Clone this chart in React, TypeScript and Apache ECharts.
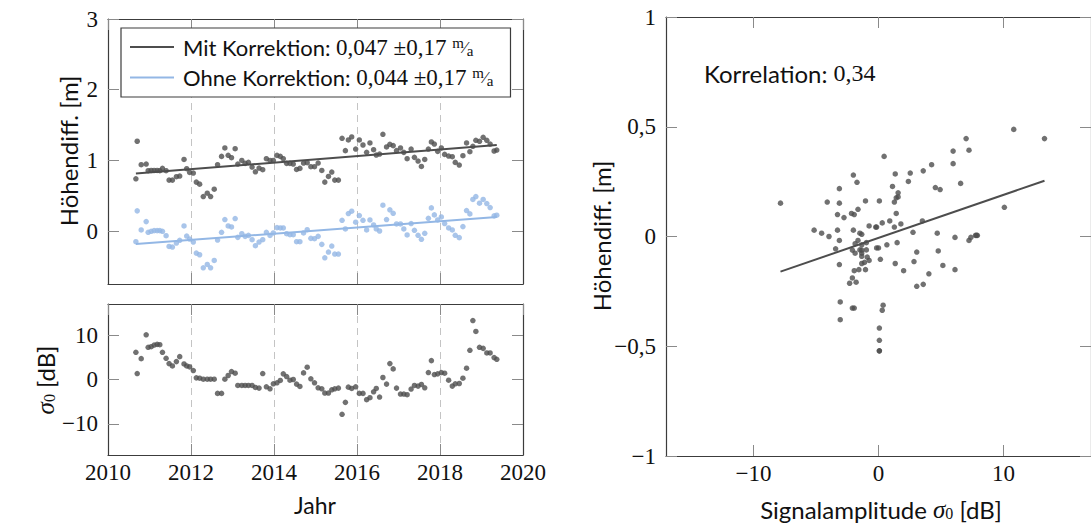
import React, { useEffect, useRef } from "react";
import * as echarts from "echarts";

// ---- data ----
const dates = [
  2010.672, 2010.704, 2010.8, 2010.92, 2010.968, 2011.04, 2011.112, 2011.184, 2011.248, 2011.312,
  2011.4, 2011.472, 2011.552, 2011.648, 2011.728, 2011.832, 2011.896, 2011.968, 2012.056, 2012.128,
  2012.208, 2012.296, 2012.392, 2012.472, 2012.56, 2012.64, 2012.736, 2012.816, 2012.896, 2012.976,
  2013.064, 2013.128, 2013.224, 2013.304, 2013.384, 2013.472, 2013.552, 2013.64, 2013.728, 2013.816,
  2013.904, 2013.984, 2014.072, 2014.152, 2014.224, 2014.304, 2014.384, 2014.464, 2014.544, 2014.624,
  2014.712, 2014.8, 2014.888, 2014.976, 2015.064, 2015.152, 2015.224, 2015.312, 2015.392, 2015.464,
  2015.552, 2015.64, 2015.72, 2015.792, 2015.872, 2015.968, 2016.056, 2016.144, 2016.232, 2016.312,
  2016.4, 2016.464, 2016.544, 2016.624, 2016.712, 2016.792, 2016.872, 2016.952, 2017.048, 2017.128,
  2017.208, 2017.304, 2017.384, 2017.472, 2017.552, 2017.632, 2017.72, 2017.792, 2017.864, 2017.944,
  2018.032, 2018.112, 2018.208, 2018.296, 2018.368, 2018.464, 2018.552, 2018.64, 2018.72, 2018.792,
  2018.864, 2018.952, 2019.04, 2019.128, 2019.208, 2019.304, 2019.368,
];

const mitKorrektion = [
  0.739, 1.27, 0.938, 0.947, 0.853, 0.857, 0.857, 0.857, 0.853, 0.886,
  0.853, 0.72, 0.72, 0.768, 0.777, 1.013, 0.881, 0.829, 0.82, 0.692,
  0.663, 0.488, 0.535, 0.488, 0.592, 0.938, 1.056, 1.175, 1.071, 1.037,
  1.165, 0.947, 0.999, 0.957, 0.971, 0.905, 0.838, 0.89, 0.867, 1.023,
  0.999, 0.999, 1.07, 1.056, 1.023, 0.957, 0.957, 0.947, 0.871, 0.886,
  0.962, 0.966, 0.91, 0.91, 0.962, 0.857, 0.692, 0.772, 0.834, 0.72,
  0.72, 1.312, 1.137, 1.288, 1.331, 1.16, 1.288, 1.217, 1.113, 1.246,
  1.151, 1.075, 1.089, 1.369, 1.189, 1.227, 1.208, 1.137, 1.175, 1.113,
  1.023, 1.16, 1.042, 0.99, 0.914, 1.013, 1.16, 1.26, 1.231, 1.127,
  1.175, 1.084, 1.061, 1.051, 0.971, 0.933, 1.066, 1.246, 1.122, 1.198,
  1.283, 1.269, 1.326, 1.283, 1.231, 1.132, 1.146,
];

const ohneKorrektion = [
  -0.151, 0.285, 0.015, 0.133, -0.018, -0.004, 0.005, 0.005, 0.005, -0.004,
  -0.066, -0.218, -0.227, -0.17, -0.132, 0.071, -0.071, -0.114, -0.156, -0.313,
  -0.336, -0.521, -0.473, -0.521, -0.417, -0.128, -0.018, 0.162, 0.071, 0.057,
  0.176, -0.09, -0.038, -0.076, -0.062, -0.123, -0.208, -0.156, -0.123, -0.018,
  -0.062, -0.028, 0.048, 0.043, 0.043, -0.038, -0.052, -0.052, -0.151, -0.151,
  -0.028, 0.019, -0.104, -0.109, -0.076, -0.189, -0.379, -0.298, -0.213, -0.326,
  -0.326, 0.152, 0.029, 0.247, 0.28, 0.124, 0.218, 0.152, 0.015, 0.157,
  0.086, 0.029, 0.0, 0.365, 0.162, 0.299, 0.251, 0.1, 0.1, 0.029,
  -0.056, 0.105, 0.01, -0.061, -0.118, -0.033, 0.18, 0.327, 0.228, 0.157,
  0.199, 0.105, 0.043, 0.015, -0.061, -0.094, 0.062, 0.289, 0.242, 0.446,
  0.488, 0.393, 0.446, 0.389, 0.332, 0.214, 0.223,
];

const sigma0 = [
  6.12, 1.34, 4.7, 10.07, 7.24, 7.39, 7.76, 7.91, 7.84, 6.12,
  4.78, 3.58, 3.06, 4.03, 5.15, 3.51, 3.06, 2.84, 2.01, 0.37,
  0.3, 0.07, 0.07, 0.07, 0.07, -3.13, -3.13, 0.07, 0.9, 1.79,
  1.42, -1.34, -1.34, -1.34, -1.34, -1.34, -1.79, -1.94, 1.34, -1.64,
  -2.09, -0.97, -0.75, -0.22, 1.27, 0.67, -0.15, 0.0, -1.04, -1.57,
  1.49, 2.76, 0.15, -0.75, -1.87, -2.09, -3.06, -3.06, -2.31, -2.09,
  -1.94, -7.84, -5.15, -1.72, -2.01, -1.64, -3.13, -3.13, -4.55, -4.1,
  -2.76, -2.01, -3.96, 0.45, -1.04, 3.58, 2.39, -1.94, -3.28, -3.28,
  -3.43, -2.16, -1.34, -1.49, -1.12, -1.87, 1.57, 4.25, 1.12, 1.27,
  1.57, 1.42, -0.15, -1.49, -0.97, -0.9, 0.3, 2.54, 6.57, 13.28,
  10.82, 7.24, 7.01, 5.97, 5.97, 4.93, 4.55,
];

// trend lines (end points)
const trendYears = [2010.672, 2019.368];
const mitTrend = [0.814, 1.217];
const ohneTrend = [-0.184, 0.199];
const fitSigma = [-7.84, 13.28];
const fitHeight = [-0.16, 0.254];

// legend / annotation
const legendNames = ["Mit Korrektion", "Ohne Korrektion"];
const legendRates = ["0,047", "0,044"];
const legendSpread = "0,17";
const correlation = "0,34";

// ticks
const yearTicks = [2010, 2012, 2014, 2016, 2018, 2020];
const heightTicks = [0, 1, 2, 3];
const sigmaTicks = [-10, 0, 10];
const corrHeightTicks = [-1, -0.5, 0, 0.5, 1];
const corrSigmaTicks = [-10, 0, 10];

const DARK = "#4d4d4d";
const BLUE = "#93b7e5";
const FRAME = "#3c3c3c";
const TICK = "#8a8a8a";
const SANS = "Lato, 'Open Sans', sans-serif";
const SERIF = "'Liberation Serif', 'DejaVu Serif', serif";

const fmt = (v: number) => {
  const s = String(Math.abs(v)).replace(".", ",");
  return v < 0 ? "\u2212" + s : s;
};

function ax(grid: number, min: number, max: number, ticks: number[], opts: any) {
  const base = {
    type: "value",
    gridIndex: grid,
    min,
    max,
    axisLine: { show: true, onZero: false, lineStyle: { color: FRAME, width: 1.2 } },
    axisTick: { show: true, inside: true, length: 11, customValues: ticks, lineStyle: { color: TICK, width: 1 } },
    axisLabel: { show: false, customValues: ticks },
    splitLine: { show: false },
  };
  return { ...base, ...opts };
}

export default function App() {
  const ref = useRef<HTMLDivElement>(null);
  useEffect(() => {
    if (!ref.current) return;
    const chart = echarts.init(ref.current, null, { renderer: "svg" });
    const labelStyle = {
      show: true,
      fontFamily: SERIF,
      fontSize: 23,
      color: "#111",
      formatter: (v: number) => fmt(v),
    };
    const dashed = { show: true, lineStyle: { color: "#c4c4c4", type: [7, 5], width: 1 } };

    const legendRich = {
      t: { fontFamily: SANS, fontSize: 22, color: "#111" },
      n: { fontFamily: SERIF, fontSize: 23, color: "#111" },
      u: { fontFamily: SERIF, fontSize: 15, color: "#111", padding: [0, 0, 9, 0] },
      f: { fontFamily: SERIF, fontSize: 17, color: "#111" },
      d: { fontFamily: SERIF, fontSize: 15, color: "#111", padding: [7, 0, 0, 0] },
    };
    const titleRich = {
      t: { fontFamily: SANS, fontSize: 24, fill: "#111" },
      i: { fontFamily: SERIF, fontStyle: "italic", fontSize: 25, fill: "#111" },
      s: { fontFamily: SERIF, fontSize: 16, fill: "#111", padding: [9, 0, 0, 0] },
    };

    const option: any = {
      animation: false,
      backgroundColor: "#ffffff",
      grid: [
        { left: 108, top: 19, width: 415, height: 265 },
        { left: 108, top: 304, width: 415, height: 151 },
        { left: 666, top: 17, width: 431, height: 439 },
      ],
      xAxis: [
        ax(0, 2010, 2020, yearTicks, { interval: 2, splitLine: dashed, z: 1 }),
        ax(0, 2010, 2020, yearTicks, { interval: 2, position: "top", z: 3 }),
        ax(1, 2010, 2020, yearTicks, {
          interval: 2,
          splitLine: dashed,
          z: 1,
          axisLabel: { ...labelStyle, formatter: (v: number) => String(v), margin: 6, customValues: yearTicks },
        }),
        ax(1, 2010, 2020, yearTicks, { interval: 2, position: "top", z: 3 }),
        ax(2, -17, 17, corrSigmaTicks, {
          z: 3,
          axisLabel: { ...labelStyle, margin: 6, customValues: corrSigmaTicks },
        }),
        ax(2, -17, 17, corrSigmaTicks, { position: "top", z: 3 }),
      ],
      yAxis: [
        ax(0, -0.75, 3, heightTicks, { z: 3, axisLabel: { ...labelStyle, margin: 10, customValues: heightTicks } }),
        ax(0, -0.75, 3, heightTicks, { z: 3, position: "right" }),
        ax(1, -17, 17, sigmaTicks, { z: 3, axisLabel: { ...labelStyle, margin: 10, customValues: sigmaTicks } }),
        ax(1, -17, 17, sigmaTicks, { z: 3, position: "right" }),
        ax(2, -1, 1, corrHeightTicks, { z: 3, axisLabel: { ...labelStyle, margin: 10, customValues: corrHeightTicks } }),
        ax(2, -1, 1, corrHeightTicks, { z: 3, position: "right" }),
      ],
      legend: {
        show: true,
        left: 121,
        top: 28,
        orient: "vertical",
        data: legendNames.map((n) => ({ name: n, icon: "path://M0,0L44,0L44,2L0,2Z" })),
        selectedMode: false,
        backgroundColor: "#fff",
        borderColor: FRAME,
        borderWidth: 1.2,
        borderRadius: 0,
        padding: [7, 17, 8, 9],
        itemGap: 7,
        itemWidth: 44,
        itemHeight: 2,
        formatter: (name: string) => {
          const i = legendNames.indexOf(name);
          return `{t|${name}: }{n|${legendRates[i]} \u00b1${legendSpread} }{u|m}{f|\u2044}{d|a}`;
        },
        textStyle: { fontFamily: SANS, fontSize: 22, color: "#111", padding: [0, 0, 0, 4], rich: legendRich },
      },
      graphic: [
        {
          type: "text",
          x: 68,
          y: 151,
          rotation: Math.PI / 2,
          style: { text: "Höhendiff. [m]", font: `24px ${SANS}`, fill: "#111", align: "center", verticalAlign: "middle" },
        },
        {
          type: "text",
          x: 45,
          y: 380,
          rotation: Math.PI / 2,
          style: {
            text: "{i|σ}{s|0}{t| [dB]}",
            align: "center",
            verticalAlign: "middle",
            rich: titleRich,
          },
        },
        {
          type: "text",
          x: 315,
          y: 505,
          style: { text: "Jahr", font: `23px ${SANS}`, fill: "#111", align: "center", verticalAlign: "middle" },
        },
        {
          type: "text",
          x: 601,
          y: 236,
          rotation: Math.PI / 2,
          style: { text: "Höhendiff. [m]", font: `24px ${SANS}`, fill: "#111", align: "center", verticalAlign: "middle" },
        },
        {
          type: "text",
          x: 881,
          y: 509,
          style: {
            text: "{t|Signalamplitude }{i|σ}{s|0}{t| [dB]}",
            align: "center",
            verticalAlign: "middle",
            rich: titleRich,
          },
        },
        {
          type: "text",
          x: 704,
          y: 73,
          style: {
            text: `{t|Korrelation: }{n|${correlation}}`,
            align: "left",
            verticalAlign: "middle",
            rich: {
              t: { fontFamily: SANS, fontSize: 24, fill: "#111" },
              n: { fontFamily: SERIF, fontSize: 24, fill: "#111" },
            },
          },
        },
      ],
      series: [
        {
          type: "scatter",
          xAxisIndex: 0,
          yAxisIndex: 0,
          symbolSize: 5.5,
          itemStyle: { color: DARK },
          data: dates.map((d, i) => [d, mitKorrektion[i]]),
          z: 2,
        },
        {
          type: "scatter",
          xAxisIndex: 0,
          yAxisIndex: 0,
          symbolSize: 5.5,
          itemStyle: { color: BLUE },
          data: dates.map((d, i) => [d, ohneKorrektion[i]]),
          z: 2,
        },
        {
          name: legendNames[0],
          type: "line",
          xAxisIndex: 0,
          yAxisIndex: 0,
          symbol: "none",
          color: DARK,
          lineStyle: { color: DARK, width: 2 },
          data: trendYears.map((d, i) => [d, mitTrend[i]]),
          z: 3,
        },
        {
          name: legendNames[1],
          type: "line",
          xAxisIndex: 0,
          yAxisIndex: 0,
          symbol: "none",
          color: BLUE,
          lineStyle: { color: BLUE, width: 2 },
          data: trendYears.map((d, i) => [d, ohneTrend[i]]),
          z: 3,
        },
        {
          type: "scatter",
          xAxisIndex: 2,
          yAxisIndex: 2,
          symbolSize: 5.5,
          itemStyle: { color: DARK },
          data: dates.map((d, i) => [d, sigma0[i]]),
        },
        {
          type: "scatter",
          xAxisIndex: 4,
          yAxisIndex: 4,
          symbolSize: 5.5,
          itemStyle: { color: DARK },
          data: sigma0.map((s, i) => [s, ohneKorrektion[i]]),
        },
        {
          type: "line",
          xAxisIndex: 4,
          yAxisIndex: 4,
          symbol: "none",
          lineStyle: { color: DARK, width: 2 },
          data: fitSigma.map((s, i) => [s, fitHeight[i]]),
          z: 3,
        },
      ],
    };
    chart.setOption(option);
    return () => chart.dispose();
  }, []);
  return (
    <div
      ref={ref}
      style={{ position: "fixed", left: 0, top: 0, width: 1091, height: 526, background: "#fff" }}
    />
  );
}
